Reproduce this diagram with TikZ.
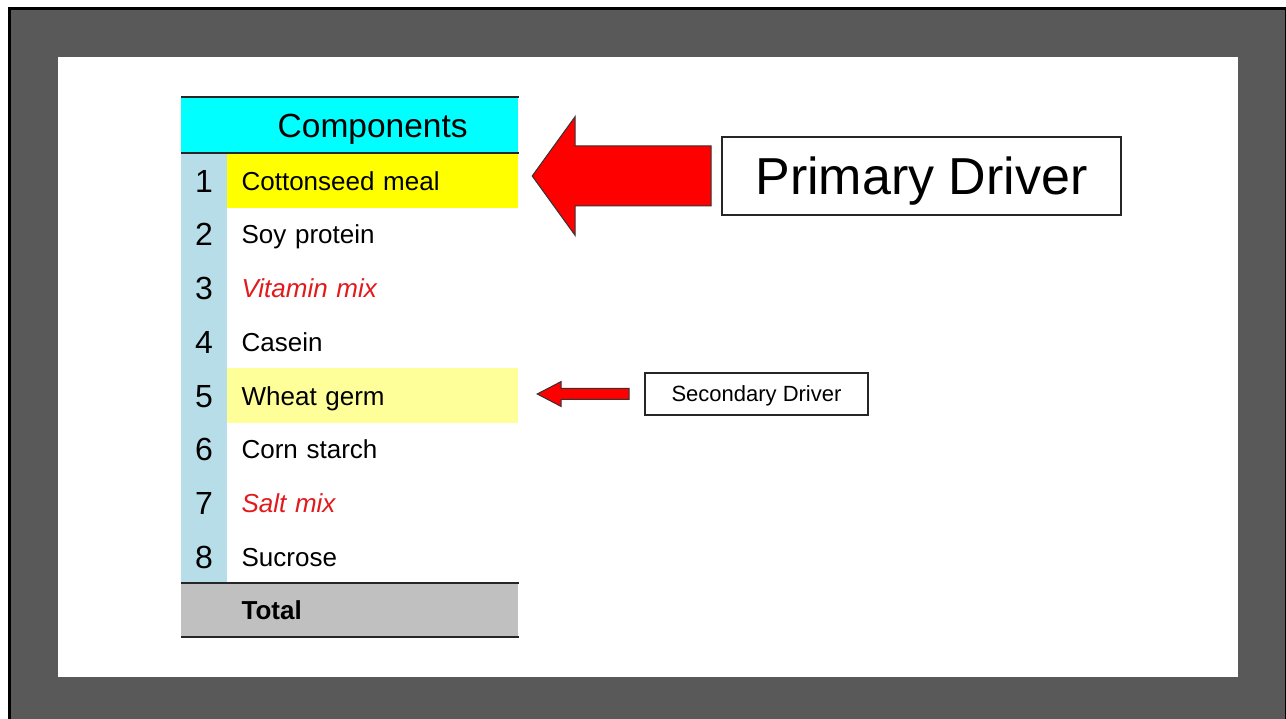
\documentclass[tikz,border=0pt]{standalone}
\usepackage{fontspec}
\setmainfont{Liberation Sans}
\usetikzlibrary{positioning, calc}
\definecolor{slideGray}{HTML}{595959}
\definecolor{hdrCyan}{HTML}{00FFFF}
\definecolor{numBlue}{HTML}{B7DEE8}
\definecolor{hiYellow}{HTML}{FFFF00}
\definecolor{hiPale}{HTML}{FFFF99}
\definecolor{totGray}{HTML}{C0C0C0}
\definecolor{ruleDark}{HTML}{262626}
\definecolor{itRed}{HTML}{E31A1C}
\tikzset{
  cell/.style={inner sep=0pt, minimum height=53.75pt, anchor=north west,
    text depth=0pt, line width=0.8pt},
  numcell/.style={cell, fill=numBlue, draw=numBlue, minimum width=44.2pt,
    text height=23pt, font=\fontsize{32}{36}\selectfont},
  itemcell/.style={cell, minimum width=290.2pt, text width=262.2pt,
    inner xsep=14pt, align=left, text height=18.7pt,
    font=\fontsize{26}{30}\selectfont},
  plainrow/.style={itemcell},
  hirow/.style={itemcell, fill=hiYellow, draw=hiYellow},
  palerow/.style={itemcell, fill=hiPale, draw=hiPale},
  redrow/.style={itemcell, text=itRed,
    font=\fontsize{26}{30}\selectfont\itshape},
  hdrcell/.style={cell, fill=hdrCyan, draw=hdrCyan, minimum height=55.2pt,
    text height=24pt, font=\fontsize{33.5}{38}\selectfont},
  totcell/.style={cell, fill=totGray, draw=totGray, minimum height=53.2pt},
  tabrule/.style={draw=ruleDark, line width=2pt},
  drvbox/.style={draw=black!85, line width=2pt, fill=white,
    inner sep=0pt, text depth=0pt},
  redarrow/.style={fill=red, draw=black!80, line width=1pt,
    line join=miter},
}
\begin{document}
\begin{tikzpicture}[x=1pt, y=-1pt]

  % ---- Frame -------------------------------------------------------------
  \useasboundingbox (0,0) rectangle (1286,719);
  \clip (0,0) rectangle (1286,719);
  \filldraw[fill=slideGray, draw=black, line width=3pt]
    (9.5,8.5) rectangle (1286.5,740);
  \fill[white] (58,57) rectangle (1238,677);

  % ---- Table -------------------------------------------------------------
  \node[hdrcell, minimum width=44.2pt] (hdr0) at (181.4,97.4) {};
  \node[hdrcell, minimum width=290.2pt, right=0.8pt of hdr0] (hdr) {Components};

  \foreach \i/\txt/\sty in {1/Cottonseed meal/hirow, 2/Soy protein/plainrow,
      3/Vitamin mix/redrow, 4/Casein/plainrow, 5/Wheat germ/palerow,
      6/Corn starch/plainrow, 7/Salt mix/redrow, 8/Sucrose/plainrow} {
    \node[numcell] (n\i) at (181.4,{153.4+(\i-1)*53.75}) {\i};
    \node[\sty, right=0.8pt of n\i] (c\i) {\txt};
  }

  \node[totcell, minimum width=44.2pt] (tot0) at (181.4,583.4) {};
  \node[itemcell, totcell, right=0.8pt of tot0]
    (total) {\textbf{Total}};

  \draw[tabrule] ([xshift=-0.4pt]hdr0.north west) -- ([xshift=0.4pt]hdr.north east);
  \draw[tabrule] ([xshift=-0.4pt]hdr0.south west) -- ([xshift=0.4pt]hdr.south east);
  \draw[tabrule] ([xshift=-0.4pt]tot0.north west) -- ([xshift=0.4pt]total.north east);
  \draw[tabrule] ([xshift=-0.4pt]tot0.south west) -- ([xshift=0.4pt]total.south east);

  % ---- Drivers -----------------------------------------------------------
  \node[drvbox, minimum width=399pt, minimum height=78pt, text height=37.4pt,
    font=\fontsize{52}{58}\selectfont] (prim) at (921.5,176) {Primary Driver};
  \node[drvbox, minimum width=223pt, minimum height=42pt, text height=15.8pt,
    font=\fontsize{22}{26}\selectfont] (sec) at (756.5,394) {Secondary Driver};

  % big arrow points from the primary box at cottonseed meal
  \coordinate (ptail) at ($(prim.west)+(-10,0)$);
  \path (c1.east) ++(14,0) coordinate (ptipx);
  \coordinate (ptip) at (ptipx |- ptail);
  \filldraw[redarrow] (ptip) -- ($(ptip)+(43,-59.5)$) -- ($(ptip)+(43,-30)$)
    -- ($(ptail)+(0,-30)$) -- ($(ptail)+(0,30)$) -- ($(ptip)+(43,30)$)
    -- ($(ptip)+(43,59.5)$) -- cycle;

  % small arrow from the secondary box at wheat germ
  \coordinate (stail) at ($(sec.west)+(-15,0)$);
  \path (c5.east) ++(19,0) coordinate (stipx);
  \coordinate (stip) at (stipx |- stail);
  \filldraw[redarrow] (stip) -- ($(stip)+(24,-12.5)$) -- ($(stip)+(24,-5.5)$)
    -- ($(stail)+(0,-5.5)$) -- ($(stail)+(0,5.5)$) -- ($(stip)+(24,5.5)$)
    -- ($(stip)+(24,12.5)$) -- cycle;

\end{tikzpicture}
\end{document}
